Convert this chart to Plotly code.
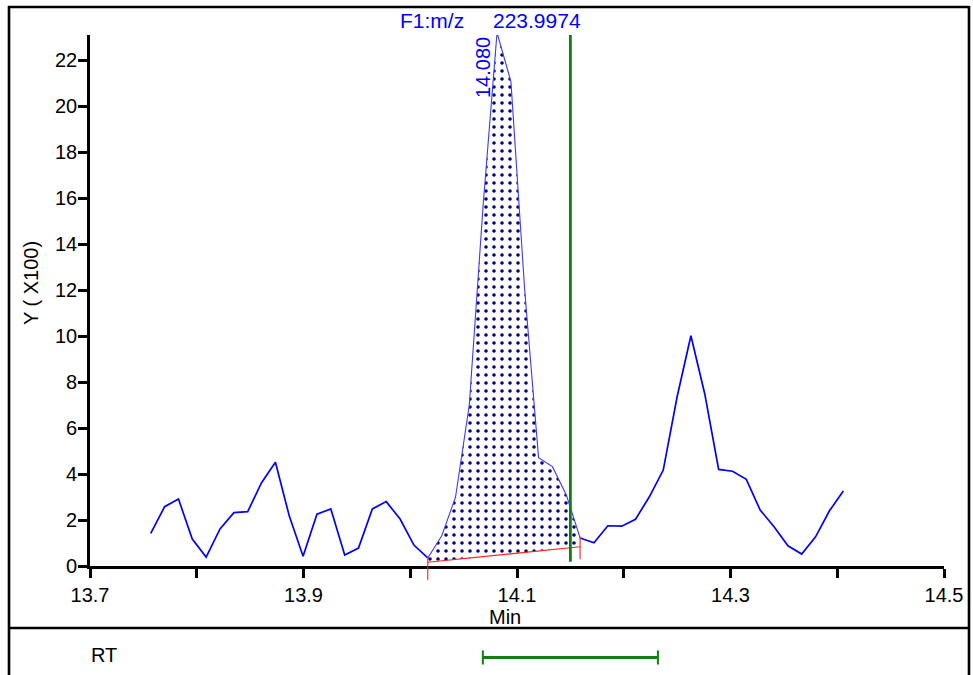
import plotly.graph_objects as go

# ---------------- data ----------------
times = [13.7569, 13.7699, 13.7829, 13.7958, 13.8088, 13.8218, 13.8348, 13.8477,
         13.8607, 13.8737, 13.8867, 13.8996, 13.9126, 13.9256, 13.9386, 13.9515,
         13.9645, 13.9775, 13.9905, 14.0034, 14.0164, 14.0294, 14.0424, 14.0553,
         14.0683, 14.0813, 14.0943, 14.1072, 14.1202, 14.1332, 14.1462, 14.1591,
         14.1721, 14.1851, 14.1981, 14.2110, 14.2240, 14.2370, 14.2500, 14.2629,
         14.2759, 14.2889, 14.3019, 14.3148, 14.3278, 14.3408, 14.3538, 14.3667,
         14.3797, 14.3927, 14.4057]
intensity = [1.42, 2.58, 2.91, 1.17, 0.39, 1.61, 2.32, 2.36, 3.62, 4.51,
             2.17, 0.42, 2.25, 2.48, 0.48, 0.78, 2.48, 2.80, 2.04, 0.91,
             0.35, 1.30, 2.99, 7.00, 15.70, 23.19, 21.06, 12.00, 4.71, 4.32,
             3.09, 1.22, 1.01, 1.75, 1.73, 2.03, 3.01, 4.17, 7.36, 10.01,
             7.48, 4.20, 4.12, 3.77, 2.43, 1.71, 0.88, 0.52, 1.27, 2.40, 3.26]
peak_start = 20          # index of integration start point
peak_end = 31            # index of integration end point
baseline_values = [0.16, 0.84]
apex_label = "14.080"
mass_label = ["F1:m/z", "223.9974"]
marker_time = 14.15
marker_span = [0.19, 23.13]
rt_window = [14.068, 14.232]
x_tick_vals = [13.7, 13.9, 14.1, 14.3, 14.5]
x_tick_text = ["13.7", "13.9", "14.1", "14.3", "14.5"]
x_minor_vals = [13.8, 14.0, 14.2, 14.4]
y_tick_vals = [0, 2, 4, 6, 8, 10, 12, 14, 16, 18, 20, 22]
y_range = [0, 23.087]
x_range = [13.7, 14.5]

W, H = 973, 675
FONT = "Arial, Liberation Sans, sans-serif"
BLUE = "#0000FF"
GREEN = "#0E800E"


def px(x):
    return x / W


def py(y):
    return 1 - y / H


fig = go.Figure()

# dotted integrated area
pk_t = times[peak_start:peak_end + 1]
pk_v = intensity[peak_start:peak_end + 1]
fig.add_trace(go.Scatter(
    x=pk_t + [times[peak_end], times[peak_start]],
    y=pk_v + [baseline_values[1], baseline_values[0]],
    mode="lines", fill="toself", line=dict(width=0, color=BLUE),
    fillcolor="white",
    fillpattern=dict(shape=".", fgcolor="#000080", bgcolor="white",
                     size=8, solidity=0.16),
    hoverinfo="skip", showlegend=False))

# chromatogram line (outside peak)
fig.add_trace(go.Scatter(x=times[:peak_start + 1], y=intensity[:peak_start + 1],
                         mode="lines", line=dict(color=BLUE, width=1.7),
                         showlegend=False))
fig.add_trace(go.Scatter(x=times[peak_end:], y=intensity[peak_end:],
                         mode="lines", line=dict(color=BLUE, width=1.7),
                         showlegend=False))
# peak outline (thin)
fig.add_trace(go.Scatter(x=pk_t, y=pk_v, mode="lines",
                         line=dict(color="#3A3AFF", width=1.1),
                         showlegend=False))
# baseline
fig.add_trace(go.Scatter(x=[times[peak_start], times[peak_end]], y=baseline_values,
                         mode="lines", line=dict(color="#FF2020", width=1.1),
                         showlegend=False))

shapes = []
# marker line
shapes.append(dict(type="line", xref="x", yref="y", x0=marker_time, x1=marker_time,
                   y0=marker_span[0], y1=marker_span[1],
                   line=dict(color=GREEN, width=2.8)))
# red baseline end ticks
shapes.append(dict(type="line", xref="x", yref="paper",
                   x0=times[peak_start], x1=times[peak_start],
                   y0=py(580), y1=py(556.7), line=dict(color="#FF2020", width=1.1)))
shapes.append(dict(type="line", xref="x", yref="paper",
                   x0=times[peak_end], x1=times[peak_end],
                   y0=py(559.3), y1=py(536.7), line=dict(color="#FF2020", width=1.1)))
# RT window bar in lower panel
shapes.append(dict(type="line", xref="x", yref="paper", x0=rt_window[0], x1=rt_window[1],
                   y0=py(657.5), y1=py(657.5), line=dict(color=GREEN, width=2.8)))
for t in rt_window:
    shapes.append(dict(type="line", xref="x", yref="paper", x0=t, x1=t,
                       y0=py(650.5), y1=py(664.5), line=dict(color=GREEN, width=2)))
# frame
FR = dict(color="black", width=2.6)
shapes.append(dict(type="line", xref="paper", yref="paper", x0=px(8), x1=px(969.5),
                   y0=py(7), y1=py(7), line=FR))
shapes.append(dict(type="line", xref="paper", yref="paper", x0=px(9), x1=px(9),
                   y0=py(6), y1=py(690), line=FR))
shapes.append(dict(type="line", xref="paper", yref="paper", x0=px(969), x1=px(969),
                   y0=py(6), y1=py(690), line=FR))
shapes.append(dict(type="line", xref="paper", yref="paper", x0=px(8), x1=px(969.5),
                   y0=py(628), y1=py(628), line=FR))


def ann(text, x, y, size=20, color="black", angle=0, **kw):
    d = dict(text=text, xref="paper", yref="paper", x=x, y=y,
             xanchor="center", yanchor="middle", textangle=angle,
             showarrow=False, font=dict(family=FONT, size=size, color=color))
    d.update(kw)
    return d


annotations = [
    ann(mass_label[0], px(432), py(21), size=21, color=BLUE),
    ann(mass_label[1], px(537), py(21), size=21, color=BLUE),
    ann(apex_label, times[25], py(68), color=BLUE, angle=-90, xref="x", xshift=-14),
    ann("Y ( X100)", px(31), py(283), angle=-90),
    ann("Min", px(505), py(617)),
    ann("RT", px(104), py(655)),
]

fig.update_layout(
    template="none",
    width=W, height=H,
    margin=dict(l=0, r=0, t=0, b=0, pad=0, autoexpand=False),
    paper_bgcolor="white", plot_bgcolor="white",
    showlegend=False,
    shapes=shapes, annotations=annotations,
    xaxis=dict(domain=[px(90), px(944)], range=x_range, automargin=False,
               tickmode="array", tickvals=x_tick_vals, ticktext=x_tick_text,
               ticks="outside", ticklen=9, tickwidth=2.6, tickcolor="black",
               minor=dict(tickmode="array", tickvals=x_minor_vals, ticks="outside",
                          ticklen=9, tickwidth=2.6, tickcolor="black"),
               showline=True, linewidth=2.6, linecolor="black",
               showgrid=False, zeroline=False,
               tickfont=dict(family=FONT, size=20, color="black")),
    yaxis=dict(domain=[py(566), py(35)], range=y_range, automargin=False,
               tickmode="array", tickvals=y_tick_vals,
               ticks="outside", ticklen=9, tickwidth=2.6, tickcolor="black",
               ticklabelstandoff=-3,
               showline=True, linewidth=2.6, linecolor="black",
               showgrid=False, zeroline=False,
               tickfont=dict(family=FONT, size=20, color="black")),
)

fig.write_html("out.html",
               config={"displayModeBar": False},
               post_script="document.body.style.margin='0';document.body.style.overflow='hidden';")
